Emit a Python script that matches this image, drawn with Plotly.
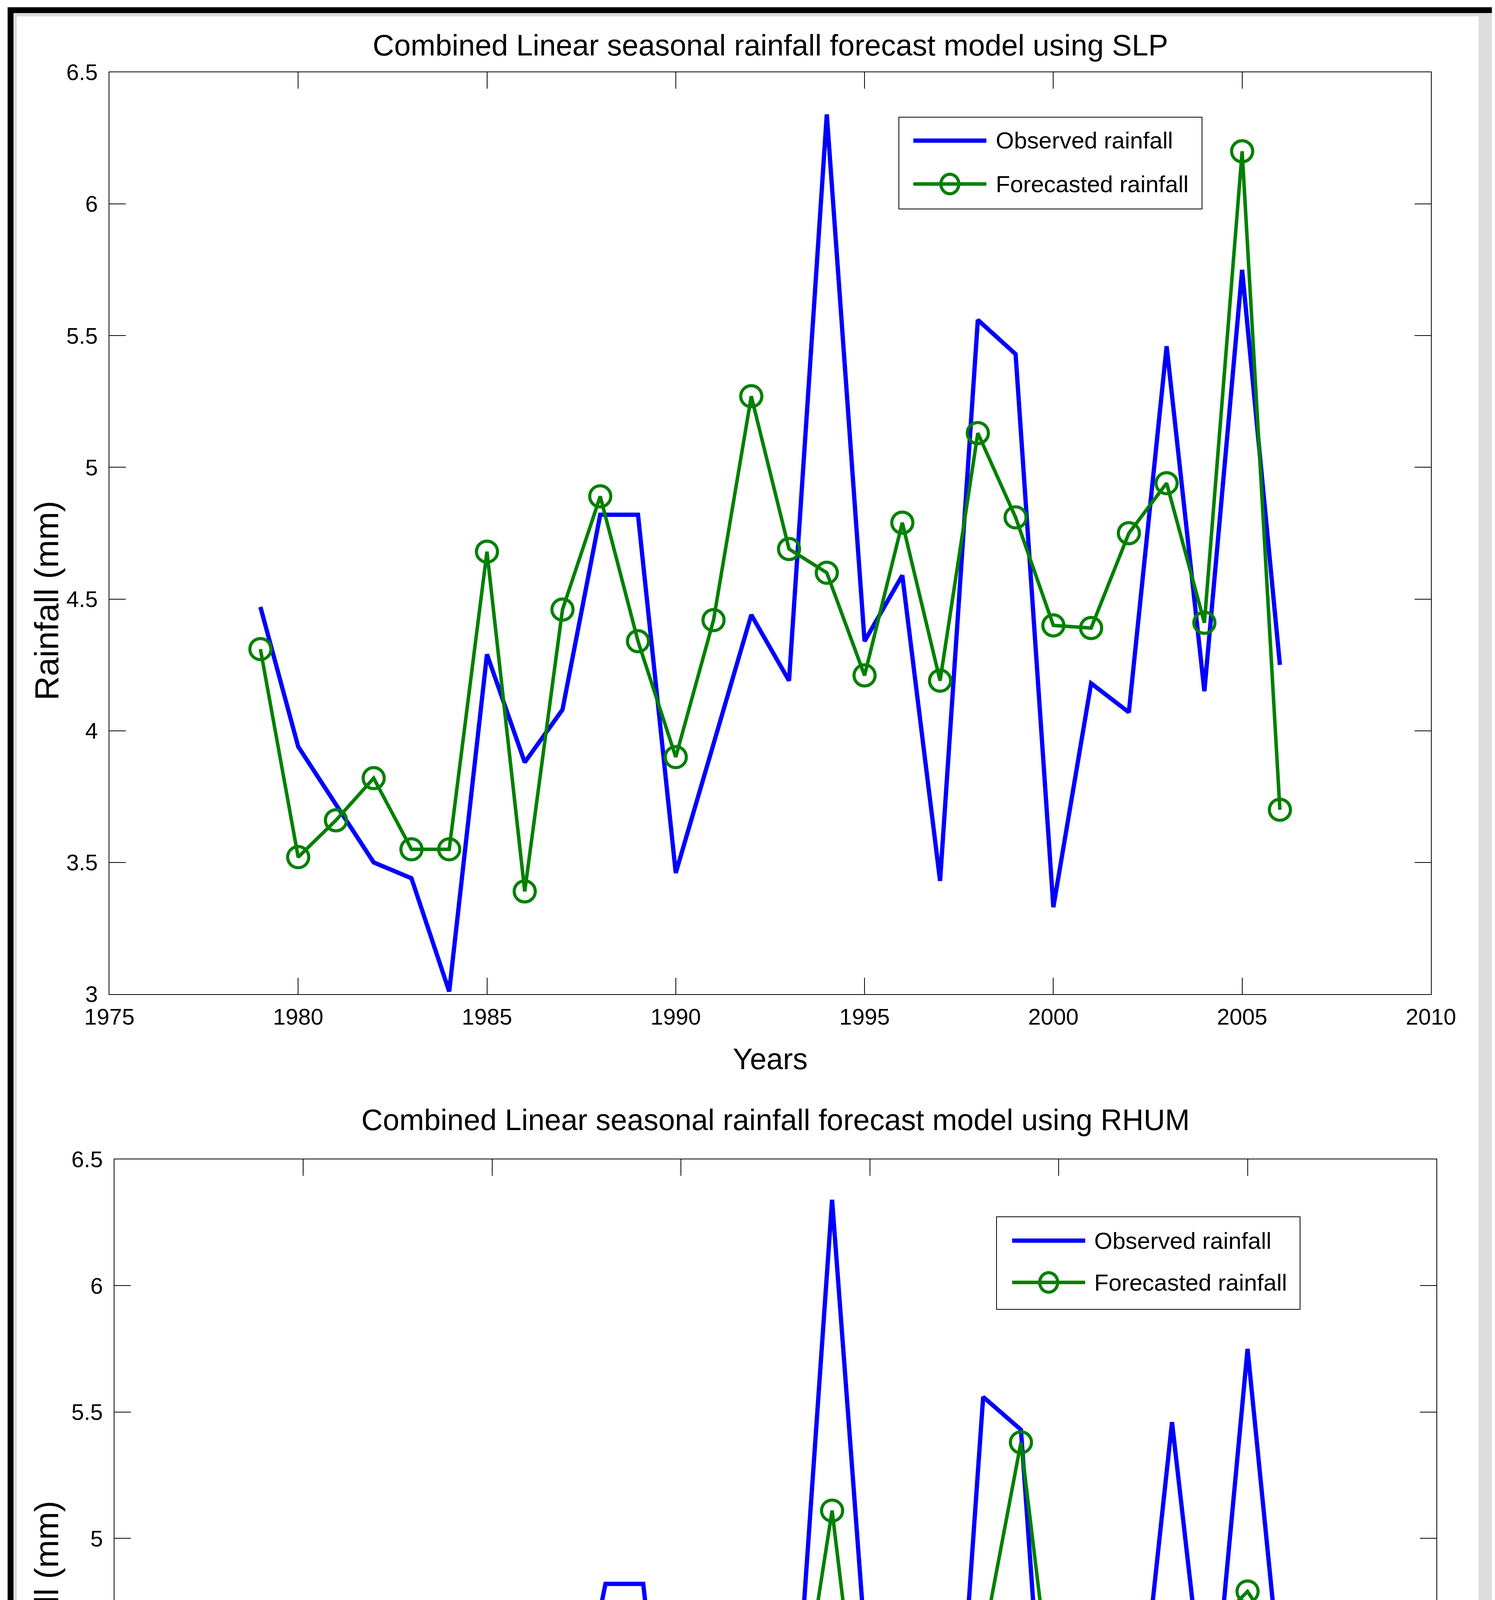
import plotly.graph_objects as go

# data
years = list(range(1979, 2007))
observed = [4.47, 3.94, 3.72, 3.50, 3.44, 3.01, 4.29, 3.88, 4.08, 4.82,
            4.82, 3.46, 3.95, 4.44, 4.19, 6.34, 4.34, 4.59, 3.43, 5.56,
            5.43, 3.33, 4.18, 4.07, 5.46, 4.15, 5.75, 4.25]
forecast_slp = [4.31, 3.52, 3.66, 3.82, 3.55, 3.55, 4.68, 3.39, 4.46, 4.89,
                4.34, 3.90, 4.42, 5.27, 4.69, 4.60, 4.21, 4.79, 4.19, 5.13,
                4.81, 4.40, 4.39, 4.75, 4.94, 4.41, 6.20, 3.70]
forecast_rhum = [4.60, 4.35, 3.74, 3.85, 3.83, 3.62, 4.32, 4.25, 4.13, 4.45,
                 4.06, 4.02, 4.06, 4.20, 4.15, 5.11, 3.87, 4.64, 3.78, 4.59,
                 5.38, 4.14, 4.00, 4.56, 4.26, 4.64, 4.79, 4.56]
titles = ["Combined Linear seasonal rainfall forecast model using SLP",
          "Combined Linear seasonal rainfall forecast model using RHUM"]
legend_names = ["Observed rainfall", "Forecasted rainfall"]

W, H = 3827, 5502
BLUE = "#0000ff"
GREEN = "#008000"
FONT = "Liberation Sans, Arial, sans-serif"

def px(x):
   return x / W

def py(y):
   return 1 - y / H

fig = go.Figure()

panels = [
   # axis box and text positions in pixels of the picture
   dict(fc=forecast_slp, x=(272, 3655), y=(177, 2537), title_y=108,
        xt_y=2702, yt_y=1530, leg=(2293, 3069, 292, 527, 2330, 2517, 2539, 352, 463)),
   dict(fc=forecast_rhum, x=(285, 3669), y=(2960, 5224), title_y=2858,
        xt_y=5385, yt_y=4090, leg=(2543, 3320, 3107, 3344, 2583, 2770, 2791, 3168, 3275)),
]

shapes = []
annotations = []

for i, p in enumerate(panels):
   n = "" if i == 0 else str(i + 1)
   fig.add_trace(go.Scatter(
      x=years, y=observed, mode="lines", name=legend_names[0],
      line=dict(color=BLUE, width=11), xaxis="x" + n, yaxis="y" + n,
      showlegend=False))
   fig.add_trace(go.Scatter(
      x=years, y=p["fc"], mode="lines+markers", name=legend_names[1],
      line=dict(color=GREEN, width=9),
      marker=dict(symbol="circle-open", size=54, color=GREEN, line=dict(width=8, color=GREEN)),
      xaxis="x" + n, yaxis="y" + n, showlegend=False))

   axis_common = dict(
      showgrid=False, zeroline=False, showline=True, linecolor="black", linewidth=2,
      mirror="allticks", ticks="inside", ticklen=42, tickwidth=2, tickcolor="black",
      tickfont=dict(family=FONT, size=58, color="black"), automargin=False,
   )
   fig.update_layout(**{
      "xaxis" + n: dict(axis_common, range=[1975, 2010], tick0=1975, dtick=5,
                        domain=[px(p["x"][0]), px(p["x"][1])],
                        anchor="y" + n, ticklabelstandoff=6),
      "yaxis" + n: dict(axis_common, range=[3, 6.5], tick0=3, dtick=0.5,
                        domain=[py(p["y"][1]), py(p["y"][0])],
                        anchor="x" + n, ticklabelstandoff=16),
   })

   xc = (p["x"][0] + p["x"][1]) / 2
   annotations += [
      dict(text=titles[i], x=px(xc), y=py(p["title_y"]), xref="paper", yref="paper",
           showarrow=False, xanchor="center", yanchor="middle",
           font=dict(family=FONT, size=76, color="black")),
      dict(text="Years", x=px(xc), y=py(p["xt_y"]), xref="paper", yref="paper",
           showarrow=False, xanchor="center", yanchor="middle",
           font=dict(family=FONT, size=76, color="black")),
      dict(text="Rainfall (mm)", x=px(111), y=py(p["yt_y"]), xref="paper", yref="paper",
           showarrow=False, xanchor="center", yanchor="middle", textangle=-90,
           font=dict(family=FONT, size=86, color="black")),
   ]

   # legend box drawn by hand so the line samples keep the original length
   bx0, bx1, by0, by1, lx0, lx1, tx, r1, r2 = p["leg"]
   shapes.append(dict(type="rect", xref="paper", yref="paper",
                      x0=px(bx0), x1=px(bx1), y0=py(by1), y1=py(by0),
                      line=dict(color="black", width=2), fillcolor="white", layer="above"))
   shapes.append(dict(type="line", xref="paper", yref="paper",
                      x0=px(lx0), x1=px(lx1), y0=py(r1), y1=py(r1),
                      line=dict(color=BLUE, width=11), layer="above"))
   shapes.append(dict(type="line", xref="paper", yref="paper",
                      x0=px(lx0), x1=px(lx1), y0=py(r2), y1=py(r2),
                      line=dict(color=GREEN, width=9), layer="above"))
   mx = (lx0 + lx1) / 2
   shapes.append(dict(type="circle", xref="paper", yref="paper",
                      x0=px(mx - 23), x1=px(mx + 23), y0=py(r2 + 25), y1=py(r2 - 25),
                      line=dict(color=GREEN, width=8), fillcolor="rgba(0,0,0,0)", layer="above"))
   for name, ry in zip(legend_names, (r1, r2)):
      annotations.append(dict(text=name, x=px(tx), y=py(ry), xref="paper", yref="paper",
                              showarrow=False, xanchor="left", yanchor="middle",
                              font=dict(family=FONT, size=60, color="black")))

# frame round the whole picture
shapes += [
   dict(type="rect", xref="paper", yref="paper", x0=px(3777), x1=px(3811), y0=py(5482), y1=py(27),
        line=dict(width=0), fillcolor="#dcdcdc", layer="below"),
   dict(type="rect", xref="paper", yref="paper", x0=px(31), x1=px(3794), y0=py(5477), y1=py(30),
        line=dict(color="#dcdcdc", width=8), layer="below"),
   dict(type="rect", xref="paper", yref="paper", x0=px(19), x1=px(3819), y0=py(5488), y1=py(18),
        line=dict(color="black", width=15), layer="above"),
]

fig.update_layout(
   width=W, height=H,
   margin=dict(l=0, r=0, t=0, b=0),
   paper_bgcolor="white",
   plot_bgcolor="white",
   showlegend=False,
   shapes=shapes,
   annotations=annotations,
)

fig.write_html("out.html")
